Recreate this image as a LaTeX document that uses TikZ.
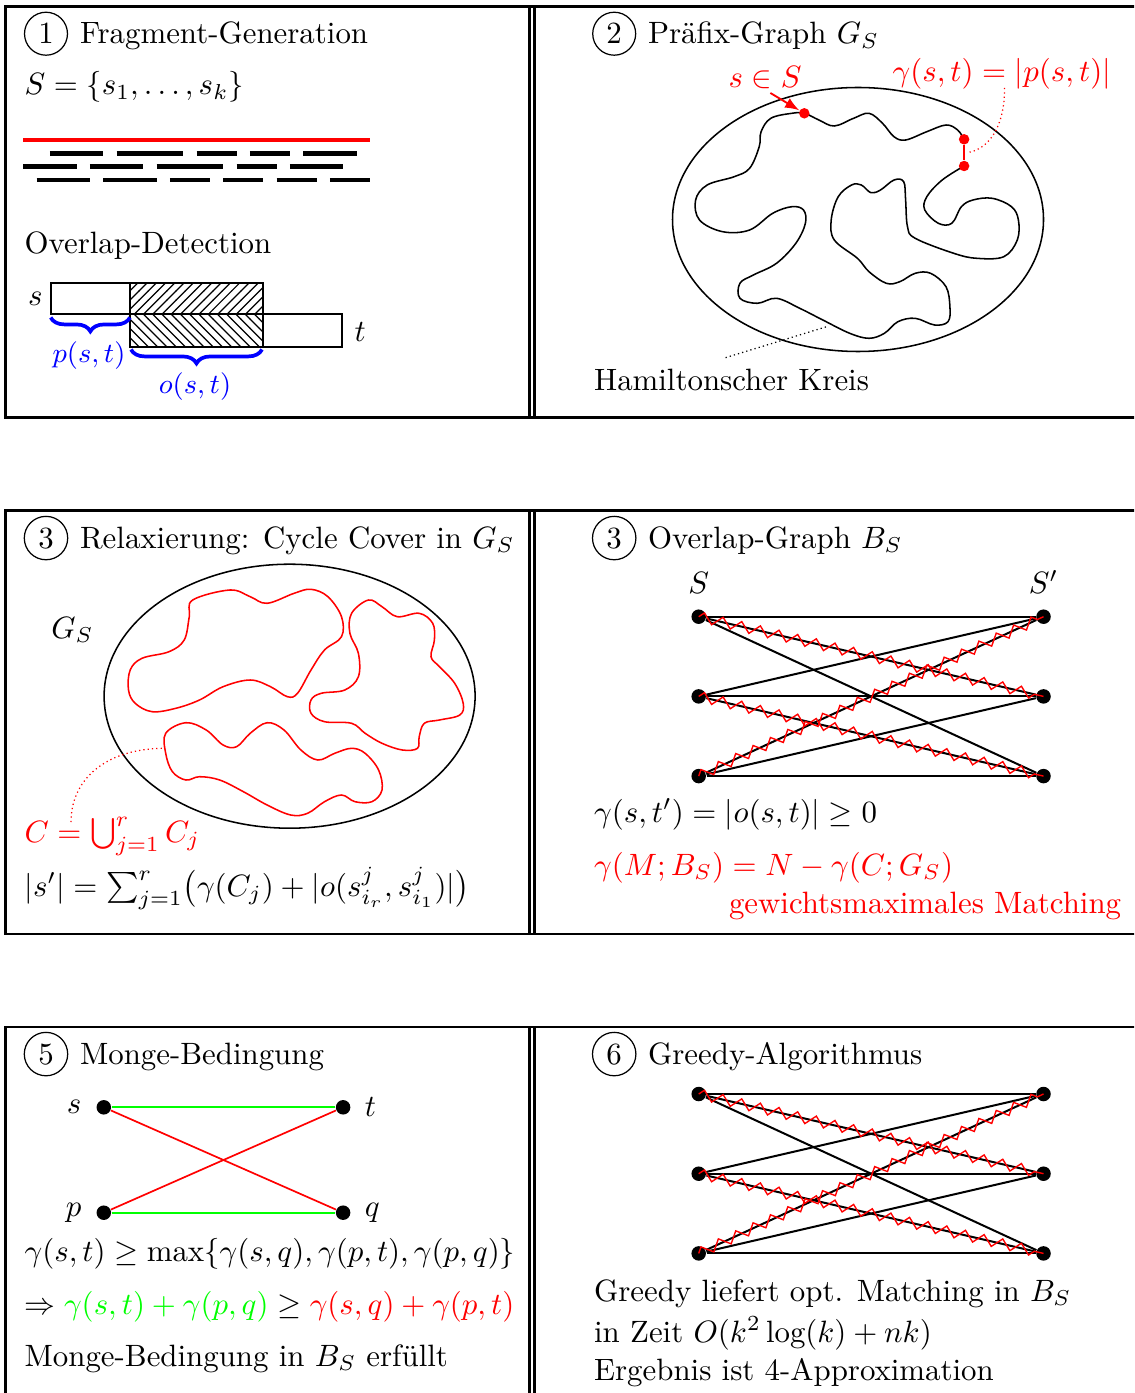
\documentclass[tikz,border=0pt]{standalone}
\usepackage{fontspec}
\usepackage{amsmath}
\usetikzlibrary{positioning,patterns,decorations.pathreplacing,decorations.pathmorphing,arrows.meta}

\begin{document}
\begin{tikzpicture}[x=0.324pt, y=-0.324pt, >=latex,
  frame/.style={line width=0.9pt},
  txt/.style={inner sep=0pt, anchor=base west},
  numcirc/.style={draw, circle, inner sep=2pt, anchor=base},
  dot/.style={circle, fill=black, inner sep=0pt, minimum size=4.7pt},
  reddot/.style={circle, fill=red, inner sep=0pt, minimum size=3.4pt},
  gedge/.style={line width=0.65pt},
  medge/.style={red, line width=0.45pt, decorate,
    decoration={zigzag, amplitude=1.6pt, segment length=6.2pt}},
  curve/.style={line width=0.5pt},
  brc/.style={blue, line width=1.2pt, decorate,
    decoration={brace, mirror, amplitude=4.5pt}}]
  \useasboundingbox (0,0) rectangle (1134,1393);
  \clip (0,0) rectangle (1134,1393);

  % table rules
  \foreach \ya/\yb in {6.3/417.8, 510.5/934, 1027/1500} {
    \draw[frame] (5.7,\ya) rectangle (1250,\yb);
    \draw[frame] (529.3,\ya) -- (529.3,\yb);
    \draw[frame] (534.7,\ya) -- (534.7,\yb);
  }

  % ---------------- (1) fragments ----------------
  \node[numcirc] (nc1) at (46,44) {1};
  \node[txt] (tt1) at (79.4,44) {Fragment-Generation};
  \node[txt] (fset) at (24,95) {$S=\{s_1,\dots,s_k\}$};

  \draw[red, line width=1.4pt] (23.3,140) -- (370,140);
  \foreach \a/\b in {2/6, 7/12, 13/16, 17/20, 21/25}
    \draw[line width=1.6pt] ({23.3+13.33*\a},153.3) -- ({23.3+13.33*\b},153.3);
  \foreach \a/\b in {0/4, 5/9, 10/15, 16/19, 20/24}
    \draw[line width=1.6pt] ({23.3+13.33*\a},166.7) -- ({23.3+13.33*\b},166.7);
  \foreach \a/\b in {1/5, 6/10, 11/14, 15/18, 19/22, 23/26}
    \draw[line width=1.6pt] ({23.3+13.33*\a},180) -- ({23.3+13.33*\b},180);

  \node[txt] (ovl) at (24,253.3) {Overlap-Detection};
  \draw[line width=0.6pt] (50.7,282.7) rectangle (130,314.3);
  \draw[line width=0.6pt, pattern=north east lines] (130,282.7) rectangle (262.7,314.3);
  \draw[line width=0.6pt, pattern=north west lines] (130,314.3) rectangle (262.7,346.7);
  \draw[line width=0.6pt] (262.7,314.3) rectangle (342.3,346.7);
  \node[inner sep=0pt, anchor=east] (ls) at (43.3,298.5) {$s$};
  \node[inner sep=0pt, anchor=west] (lt) at (354,332) {$t$};
  \draw[brc] (50.7,317.5) -- (130,317.5);
  \draw[brc] (131,349.5) -- (262,349.5);
  \node[blue, font=\small] (lp) at (89,356) {$p(s,t)$};
  \node[blue, font=\small] (lo) at (195,387) {$o(s,t)$};

  % ---------------- (2) prefix graph ----------------
  \node[numcirc] (nc2) at (614.2,44) {2};
  \node[txt] (tt2) at (647.5,44) {Präfix-Graph $G_S$};
  \draw[curve] (858,219.5) ellipse [x radius=185.5, y radius=132];
  \draw[curve] plot[smooth, tension=0.6] coordinates {
    (964.1,166) (942.2,180) (926.8,196.7) (924.8,210) (938.3,223.3) (951.8,223.3)
    (961.4,206.7) (973,200) (992.2,198.3) (1011.5,206.7) (1018.4,220) (1017.3,240)
    (1003.8,256.7) (976.8,258.3) (953.7,253.3) (915.2,238.3) (907.5,226.7) (905.6,200)
    (903.7,181.7) (894,180) (880.5,190) (870.9,192.7) (861.3,185) (851.6,185)
    (838.2,196.7) (831.2,220) (834.3,240) (857.4,258.3) (869,271.7) (886.3,283.3)
    (899.8,281.7) (915.2,273.3) (930.6,273.3) (946,286.7) (949.9,306.7) (948,321.7)
    (934.5,325) (915.2,318.3) (897.9,321.7) (884.4,333.3) (869,338.3) (849.7,333.3)
    (822.8,320) (799.7,308.3) (776.5,298.3) (757.3,303.3) (739.9,298.3) (739.9,283.3)
    (753.4,275) (776.5,263.3) (795.8,243.3) (805.4,223.3) (803.5,210) (791.9,206.7)
    (772.7,213.3) (749.6,230) (722.6,231.7) (699.5,220) (695.6,200) (707.2,185)
    (734.2,176.7) (749.6,168.3) (759.2,146.7) (761.1,131.7) (770.8,118.3) (791.9,113.3)
    (804.3,113.3) (818.9,120) (834.3,126) (853.6,118.3) (869,113.3) (882.5,123.3)
    (894,136.7) (905.6,140) (926.8,131.7) (946,125) (957.6,130) (964.1,139.3)};
  \node[reddot] (sd) at (804.3,113.3) {};
  \node[reddot] (rd1) at (964.1,139.3) {};
  \node[reddot] (rd2) at (964.1,166) {};
  \draw[red, thick] (rd1) -- (rd2);
  \node[txt, red] (sinS) at (728,88) {$s\in S$};
  \draw[->, red, semithick, shorten <=2pt] (sinS.south) -- (sd);
  \node[txt, red] (gam) at (892,82) {$\gamma(s,t)=|p(s,t)|$};
  \coordinate (segmid) at (966.5,152.7);
  \draw[red, densely dotted] ([shift={(112.6,6)}]gam.base west)
    .. controls (1004.6,128) and (988,150) .. (segmid);
  \node[txt] (ham) at (593.5,390.7) {Hamiltonscher Kreis};
  \coordinate (hampt) at (826.6,326.7);
  \draw[densely dotted] ([shift={(-6,-11)}]ham.north) -- (hampt);

  % ---------------- (3) cycle cover ----------------
  \node[numcirc] (nc3) at (46,548) {3};
  \node[txt] (tt3) at (79.4,548) {Relaxierung: Cycle Cover in $G_S$};
  \draw[curve] (289.6,696.2) ellipse [x radius=185.5, y radius=132];
  \node[txt] (gs) at (50.7,638.3) {$G_S$};
  \draw[red, curve] plot[smooth cycle, tension=0.6] coordinates {
    (192.7,600) (229.9,590) (250.2,596.7) (267.1,603.3) (294.1,593.3) (311,589.3)
    (327.9,596.7) (341.5,616.7) (341.5,636.7) (324.5,650) (311,670) (297.5,693.3)
    (287.4,696.7) (270.5,686.7) (250.2,680) (223.1,686.7) (199.5,700) (175.8,708.3)
    (152.1,711.7) (135.2,703.3) (128.5,690) (130.2,670) (142,658.3) (169,651.7)
    (184.2,640) (189.3,616.7)};
  \draw[red, curve] plot[smooth cycle, tension=0.6] coordinates {
    (351.6,613.3) (368.5,600) (382,606.7) (397.2,616.7) (419.2,613.3) (432.7,623.3)
    (434.4,640) (431,656.7) (439.5,666.7) (454.7,683.3) (463.2,703.3) (459.8,715)
    (439.5,720) (424.3,723.3) (419.2,736.7) (417.5,748.3) (402.3,750) (382,743.3)
    (365.1,733.3) (351.6,723.3) (324.5,721.7) (311,713.3) (311,700) (321.2,693.3)
    (344.8,690) (358.4,676.7) (358.4,653.3) (349.9,633.3)};
  \draw[red, curve] plot[smooth cycle, tension=0.6] coordinates {
    (165.7,733.3) (185.9,722.7) (206.2,730) (223.1,745) (236.6,746.7) (250.2,733.3)
    (267.1,722.7) (284,730) (300.9,750) (317.8,760) (334.7,753.3) (351.6,748.3)
    (365.1,753.3) (378.6,770) (382,790) (371.9,801.7) (355,801.7) (341.5,795)
    (324.5,801.7) (307.6,813.3) (290.7,815) (267.1,805) (243.4,791.7) (219.7,780)
    (199.5,776.7) (185.9,780) (172.4,771.7) (165.7,753.3)};
  \node[txt, red] (cu) at (24,842) {$C=\bigcup_{j=1}^r C_j$};
  \coordinate (cloop) at (165.2,748.3);
  \draw[red, densely dotted] ([shift={(47,-20)}]cu.base west)
    .. controls (71,780) and (105,748.3) .. (cloop);
  \node[txt] (sum) at (24,896)
    {$|s'|=\sum_{j=1}^r\bigl(\gamma(C_j)+|o(s^j_{i_r},s^j_{i_1})|\bigr)$};

  % ---------------- (3) overlap graph ----------------
  \node[numcirc] (nc4) at (614.2,548) {3};
  \node[txt] (tt4) at (647.5,548) {Overlap-Graph $B_S$};
  \foreach \i in {1,2,3} {
    \node[dot] (a\i) at (698.7,{616.7+79.7*(\i-1)}) {};
    \node[dot] (b\i) at (1043.5,{616.7+79.7*(\i-1)}) {};
  }
  \node[inner sep=0pt, above=4.8pt of a1] (lS) {$S$};
  \node[inner sep=0pt, above=4.8pt of b1] (lSp) {$S'$};
  \foreach \i in {1,2,3}
    \foreach \j in {1,2,3}
      \draw[gedge] (a\i) -- (b\j);
  \foreach \i/\j in {1/2, 2/3, 3/1}
    \draw[medge] (a\i.center) -- (b\j.center);
  \node[txt] (gst) at (593.5,822) {$\gamma(s,t')=|o(s,t)|\geq 0$};
  \node[txt, red] (gmb) at (593.5,875) {$\gamma(M;B_S)=N-\gamma(C;G_S)$};
  \node[txt, red] (gwm) at (728.4,913) {gewichtsmaximales Matching};

  % ---------------- (5) Monge ----------------
  \node[numcirc] (nc5) at (46,1064) {5};
  \node[txt] (tt5) at (79.4,1064) {Monge-Bedingung};
  \node[dot] (ms) at (103.8,1107.3) {};
  \node[dot] (mt) at (343.1,1107.3) {};
  \node[dot] (mp) at (103.8,1212.7) {};
  \node[dot] (mq) at (343.1,1212.7) {};
  \node[inner sep=0pt, left=4.5pt of ms] (lms) {$s$};
  \node[inner sep=0pt, right=4.3pt of mt] (lmt) {$t$};
  \node[inner sep=0pt, left=4.5pt of mp] (lmp) {$p$};
  \node[inner sep=0pt, right=4.3pt of mq] (lmq) {$q$};
  \draw[green, line width=0.65pt] (ms) -- (mt);
  \draw[green, line width=0.65pt] (mp) -- (mq);
  \draw[red, line width=0.55pt] (ms) -- (mq);
  \draw[red, line width=0.55pt] (mp) -- (mt);
  \node[txt] (mx) at (24,1261)
    {$\gamma(s,t)\geq\max\{\gamma(s,q),\gamma(p,t),\gamma(p,q)\}$};
  \node[txt] (imp) at (24,1314)
    {$\Rightarrow\textcolor{green}{\gamma(s,t)+\gamma(p,q)}\geq\textcolor{red}{\gamma(s,q)+\gamma(p,t)}$};
  \node[txt] (mok) at (24,1366) {Monge-Bedingung in $B_S$ erfüllt};

  % ---------------- (6) greedy ----------------
  \node[numcirc] (nc6) at (614.2,1064) {6};
  \node[txt] (tt6) at (647.5,1064) {Greedy-Algorithmus};
  \foreach \i in {1,2,3} {
    \node[dot] (c\i) at (698.7,{1094+79.7*(\i-1)}) {};
    \node[dot] (d\i) at (1043.5,{1094+79.7*(\i-1)}) {};
  }
  \foreach \i in {1,2,3}
    \foreach \j in {1,2,3}
      \draw[gedge] (c\i) -- (d\j);
  \foreach \i/\j in {1/2, 2/3, 3/1}
    \draw[medge] (c\i.center) -- (d\j.center);
  \node[txt] (gr1) at (593.5,1301) {Greedy liefert opt. Matching in $B_S$};
  \node[txt] (gr2) at (593.5,1342) {in Zeit $O(k^2\log(k)+nk)$};
  \node[txt] (gr3) at (593.5,1380.7) {Ergebnis ist 4-Approximation};
\end{tikzpicture}
\end{document}
